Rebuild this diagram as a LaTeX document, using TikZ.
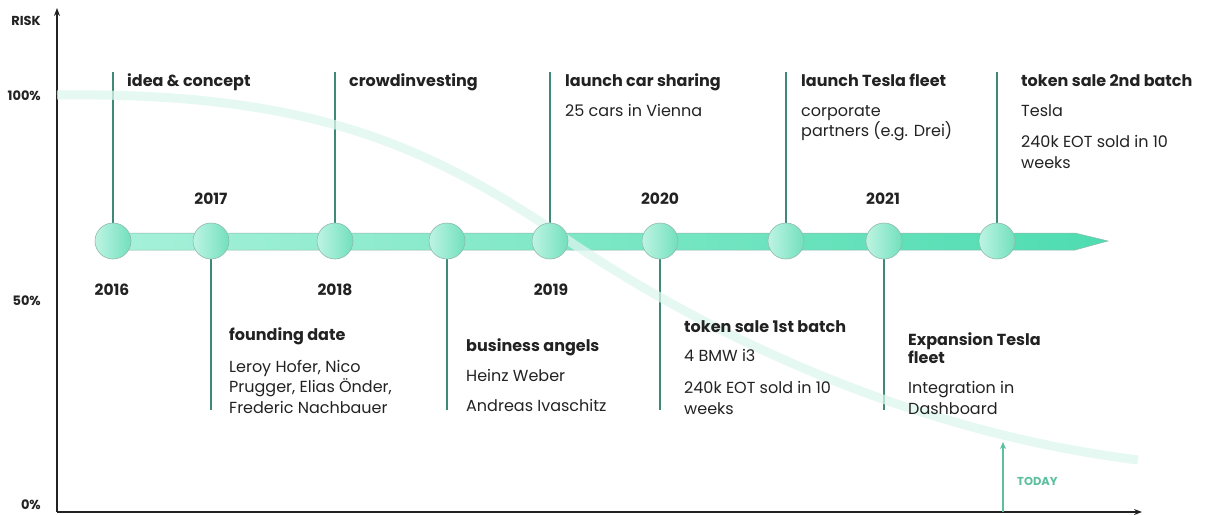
\documentclass[tikz,border=0pt]{standalone}
\usepackage{fontspec}
\setmainfont{Poppins}
\usetikzlibrary{arrows.meta}
\definecolor{ink}{HTML}{222222}
\definecolor{stem}{HTML}{3F8A77}
\definecolor{riskc}{HTML}{DDF5EE}
\definecolor{todayc}{HTML}{5CBF9E}
\definecolor{rim}{HTML}{8FB9AA}
\definecolor{barL}{HTML}{A6F1D9}
\definecolor{barR}{HTML}{4EDCB0}
\definecolor{dotL}{HTML}{BDF4E2}
\definecolor{dotR}{HTML}{72E0BD}
\tikzset{
  x=1pt, y=-1pt,
  axis/.style={draw=ink, line width=1.4pt, -{Stealth[length=8pt,width=6pt]}},
  stemline/.style={draw=stem, line width=1.3pt},
  dot/.style={circle, minimum size=36pt, inner sep=0pt, draw=rim, line width=0.6pt,
              left color=dotL, right color=dotR},
  ttl/.style={font=\fontsize{16}{18}\selectfont\bfseries, text=ink, anchor=base west, inner sep=0pt},
  body/.style={font=\fontsize{16}{18}\selectfont, text=ink, anchor=base west, inner sep=0pt},
  yr/.style={font=\fontsize{15.5}{18}\selectfont\bfseries, text=ink, anchor=base, inner sep=0pt},
  pct/.style={font=\fontsize{13}{15}\selectfont\bfseries, text=ink, anchor=base east, inner sep=0pt},
}
\begin{document}
\begin{tikzpicture}
\useasboundingbox (0,0) rectangle (1206,514);

% axes
\coordinate (origin) at (57,512);
\coordinate (ytop) at (57,8);
\coordinate (xend) at (1142,512);
\draw[axis] (origin) -- (ytop);
\draw[axis] (origin) -- (xend);

\node[pct] (risk) at (41,25) {RISK};
\node[pct] (p100) at (41,100) {100\%};
\node[pct] (p50) at (41,305) {50\%};
\node[pct] (p0) at (41,509) {0\%};

% milestone positions on the timeline
\foreach \n/\x in {a/113,b/211,c/335,d/447,e/550,f/660,g/786,h/884,i/997}
  \coordinate (m\n) at (\x,241);

% stems above and below
\foreach \n in {a,c,e,g,i} \draw[stemline] (m\n) -- ++(0,-169);
\foreach \n in {b,d,f,h} \draw[stemline] (m\n) -- ++(0,169);

% timeline bar with arrow head
\shade[left color=barL, right color=barR, draw=rim, line width=0.5pt]
  (113,233) -- (1075,233) -- (1108,241) -- (1075,250) -- (113,250) -- cycle;

% falling risk curve
\draw[riskc, line width=9pt, opacity=0.75] (57,95) .. controls (300,92) and (420,140) .. (560,235)
      .. controls (700,330) and (900,430) .. (1138,460);

% milestone dots
\foreach \n in {a,b,c,d,e,f,g,h,i} \node[dot] (d\n) at (m\n) {};

% years
\node[yr] (y16) at (112,295) {2016};
\node[yr] (y17) at (211,204) {2017};
\node[yr] (y18) at (335,295) {2018};
\node[yr] (y19) at (551,295) {2019};
\node[yr] (y20) at (660,204) {2020};
\node[yr] (y21) at (883,204) {2021};

% upper milestones
\node[ttl] (t1) at (127,86) {idea \& concept};
\node[ttl] (t2) at (349,86) {crowdinvesting};
\node[ttl] (t3) at (565,86) {launch car sharing};
\node[body] (t3a) at (565,116) {25 cars in Vienna};
\node[ttl] (t4) at (801,86) {launch Tesla fleet};
\node[body] (t4a) at (801,116) {corporate};
\node[body] (t4b) at (801,136) {partners (e.g. Drei)};
\node[ttl] (t5) at (1021,86) {token sale 2nd batch};
\node[body] (t5a) at (1021,116) {Tesla};
\node[body] (t5b) at (1021,147) {240k EOT sold in 10};
\node[body] (t5c) at (1021,168) {weeks};

% lower milestones
\node[ttl] (b1) at (229,340) {founding date};
\node[body] (b1a) at (229,372) {Leroy Hofer, Nico};
\node[body] (b1b) at (229,392) {Prugger, Elias Önder,};
\node[body] (b1c) at (229,413) {Frederic Nachbauer};
\node[ttl] (b2) at (466,351) {business angels};
\node[body] (b2a) at (466,381) {Heinz Weber};
\node[body] (b2b) at (466,411) {Andreas Ivaschitz};
\node[ttl] (b3) at (684,332) {token sale 1st batch};
\node[body] (b3a) at (684,361) {4 BMW i3};
\node[body] (b3b) at (684,393) {240k EOT sold in 10};
\node[body] (b3c) at (684,414) {weeks};
\node[ttl] (b4) at (908,345) {Expansion Tesla};
\node[ttl] (b4x) at (908,363) {fleet};
\node[body] (b4a) at (908,393) {Integration in};
\node[body] (b4b) at (908,414) {Dashboard};

% today marker
\coordinate (tbase) at (1003,512);
\coordinate (ttip) at (1003,442);
\draw[todayc, line width=1.3pt, -{Stealth[length=7pt,width=6pt]}] (tbase) -- (ttip);
\node[font=\fontsize{11.5}{13}\selectfont\bfseries, text=todayc, anchor=base west, inner sep=0pt] (today) at (1017,485) {TODAY};
\end{tikzpicture}
\end{document}
